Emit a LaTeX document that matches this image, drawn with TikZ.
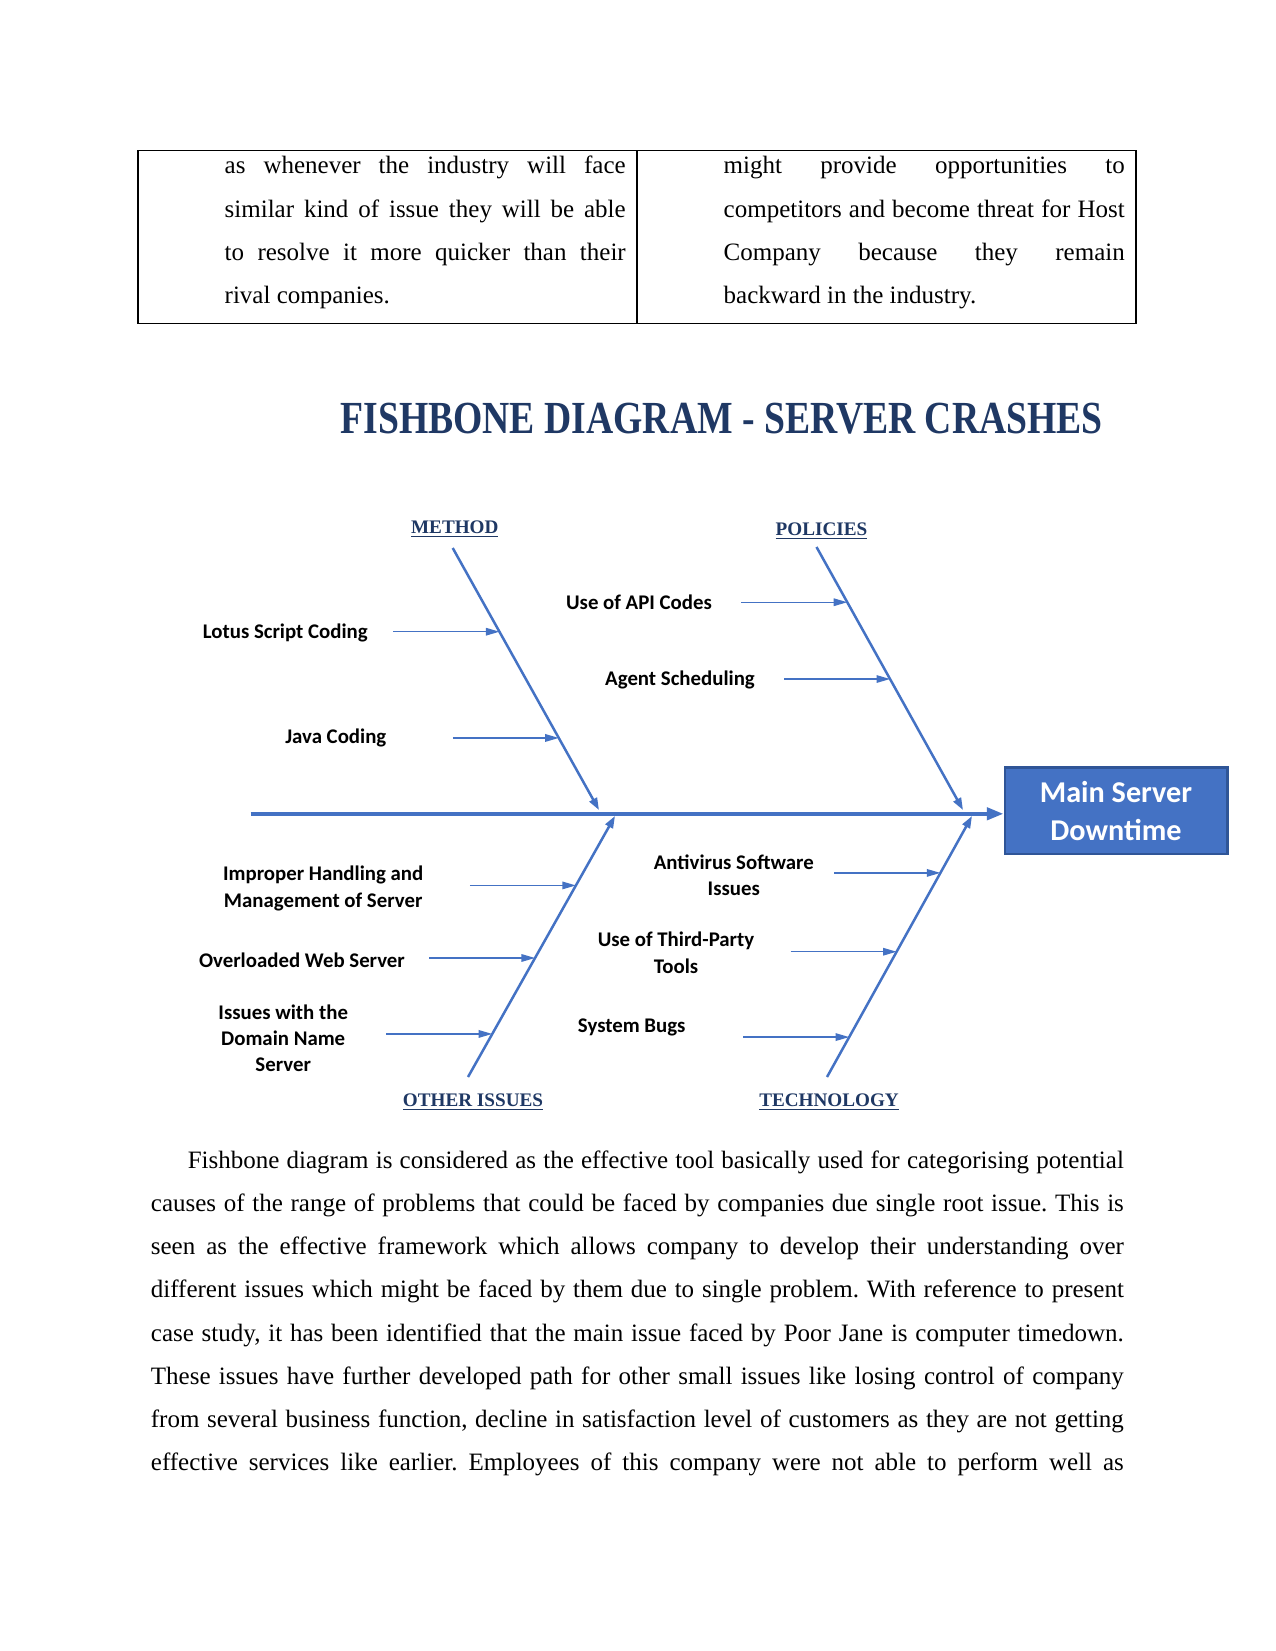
\documentclass[tikz,border=0pt]{standalone}
\usepackage{fontspec}
\setmainfont{Liberation Serif}
\newfontfamily\calibri{Carlito}
\usepackage{tikz}
\usetikzlibrary{arrows.meta,calc,positioning}
\definecolor{bonec}{RGB}{68,114,196}
\definecolor{edgec}{RGB}{47,85,151}
\definecolor{navyc}{RGB}{31,56,100}

\tikzset{
  cause/.style={font=\calibri\bfseries\fontsize{10}{12.6}\selectfont, align=center, inner sep=0pt},
  catlbl/.style={font=\bfseries\fontsize{9.2}{11}\selectfont, text=navyc, inner sep=0pt},
  bone/.style={bonec, line width=1.2pt, -{Triangle[length=5.8pt,width=4pt]}},
  twig/.style={bonec, line width=0.7pt, -{Triangle[length=6.5pt,width=3.6pt]}},
  bodytext/.style={font=\fontsize{12}{20.7}\selectfont\frenchspacing, align=justify, inner sep=0pt, anchor=base west},
}

\begin{document}
\begin{tikzpicture}[x=0.48pt,y=-0.48pt]
\useasboundingbox[fill=white] (0,0) rectangle (1275,1651);
% table at the top of the page
\draw[line width=0.5pt] (138,150.5) rectangle (1136,323.2);
\draw[line width=0.5pt] (637,150.5) -- (637,323.2);
\node[bodytext, text width=192.5pt] (cellL) at (224.3,174) {\hyphenpenalty=10000
  as whenever the industry will face\linebreak similar kind of issue they will be able\linebreak
  to resolve it more quicker than their\linebreak rival companies.};
\node[bodytext, text width=192.5pt] (cellR) at (723.3,174) {\hyphenpenalty=10000
  might provide opportunities to\linebreak competitors and become threat for Host\linebreak
  Company because they remain\linebreak backward in the industry.};

% title
\node[inner sep=0pt, text=navyc] (title) at (721.7,418.5)
  {\resizebox{366pt}{14.6pt}{\bfseries FISHBONE DIAGRAM - SERVER CRASHES}};

% head and spine
\node[fill=bonec, draw=edgec, line width=1pt, minimum width=107pt, minimum height=41.4pt,
  align=center, text=white, font=\calibri\bfseries\fontsize{14.5}{18.2}\selectfont] (main)
  at (1116,810.6) {Main Server\\Downtime};
\coordinate (tail) at (250.6,813.8);
\draw[bonec, line width=1.9pt, -{Triangle[length=8pt,width=5.8pt]}] (tail) -- (tail -| main.west);

% bones
\coordinate (mth-a) at (452.7,548);  \coordinate (mth-b) at (599,810);
\coordinate (pol-a) at (816.5,547);  \coordinate (pol-b) at (963,810);
\coordinate (oth-a) at (468,1077);   \coordinate (oth-b) at (615,816);
\coordinate (tec-a) at (827,1077);   \coordinate (tec-b) at (972,816);
\foreach \b in {mth,pol,oth,tec}{ \draw[bone] (\b-a) -- (\b-b); }

\node[catlbl] (method) at (454.8,529) {\underline{METHOD}};
\node[catlbl] (policies) at (821.5,531) {\underline{POLICIES}};
\node[catlbl] (other) at (473,1102) {\underline{OTHER ISSUES}};
\node[catlbl] (techno) at (829,1102) {\underline{TECHNOLOGY}};

% causes
\node[cause] (lotus) at (285.3,632.6) {Lotus Script Coding};
\node[cause] (java) at (335.8,738) {Java Coding};
\node[cause] (api) at (639,602.5) {Use of API Codes};
\node[cause] (agent) at (680,680) {Agent Scheduling};
\node[cause] (improper) at (323.2,888.4) {Improper Handling and\\Management of Server};
\node[cause] (overload) at (302,960) {Overloaded Web Server};
\node[cause] (dns) at (283.2,1038.5) {Issues with the\\Domain Name\\Server};
\node[cause] (antivirus) at (733.8,875) {Antivirus Software\\Issues};
\node[cause] (third) at (676,952.7) {Use of Third-Party\\Tools};
\node[cause] (bugs) at (631.7,1027.4) {System Bugs};

\foreach \b/\t/\n in {mth/0.3195/lotus, mth/0.725/java, pol/0.21/api, pol/0.502/agent,
    oth/0.734/improper, oth/0.456/overload, oth/0.165/dns,
    tec/0.782/antivirus, tec/0.48/third, tec/0.153/bugs}{
  \coordinate (\n-end) at ($(\b-a)!\t!(\b-b)$);
  \coordinate (\n-beg) at ($(\n-end)+(-106,0)$);
  \draw[twig] (\n-beg) -- (\n-end);
}

% paragraph below the figure
\node[bodytext, text width=467pt] (para) at (150.5,1168.6) {\hyphenpenalty=10000 \parfillskip=0pt
  \hspace*{17.7pt}Fishbone diagram is considered as the effective tool basically used for categorising potential\linebreak
  causes of the range of problems that could be faced by companies due single root issue. This is\linebreak
  seen as the effective framework which allows company to develop their understanding over\linebreak
  different issues which might be faced by them due to single problem. With reference to present\linebreak
  case study, it has been identified that the main issue faced by Poor Jane is computer timedown.\linebreak
  These issues have further developed path for other small issues like losing control of company\linebreak
  from several business function, decline in satisfaction level of customers as they are not getting\linebreak
  effective services like earlier. Employees of this company were not able to perform well as\par};
\end{tikzpicture}
\end{document}
